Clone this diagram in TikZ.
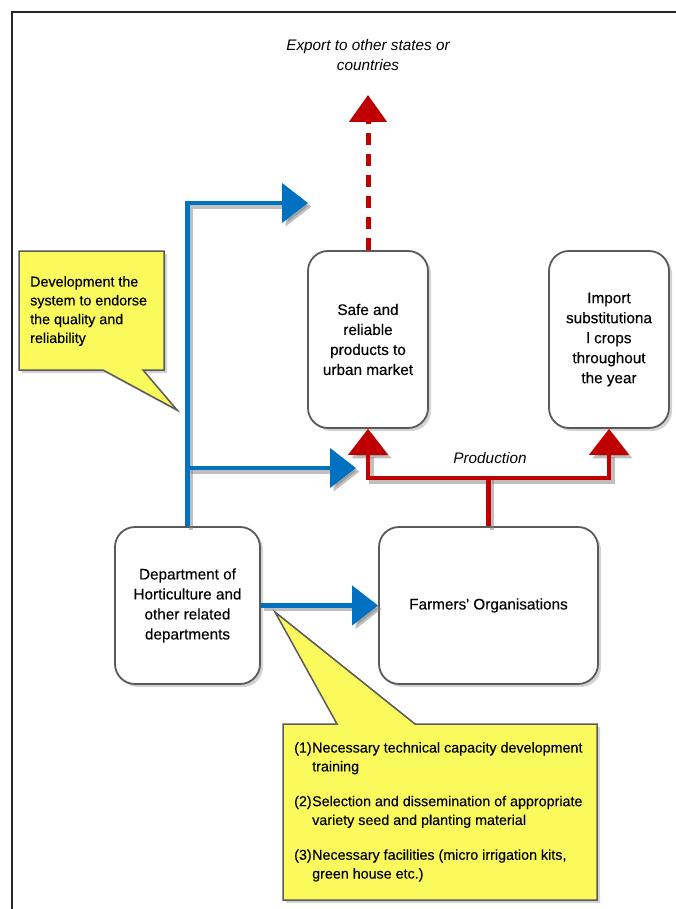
\documentclass[tikz,border=0pt]{standalone}
\usepackage{fontspec}
\setmainfont{Liberation Sans}
\newfontfamily\darktext{Liberation Sans}[FakeBold=0.25]
\usetikzlibrary{arrows.meta,shadows}
\definecolor{flowblue}{RGB}{0,112,192}
\definecolor{flowred}{RGB}{192,0,0}
\definecolor{notefill}{RGB}{250,250,92}
\definecolor{edgegray}{RGB}{90,90,90}

\begin{document}
\begin{tikzpicture}[x=1pt,y=-1pt,
  box/.style={draw=edgegray, line width=1.8pt, rounded corners=20pt, fill=white,
    align=center, inner sep=0pt, font=\darktext\fontsize{15.3}{20}\selectfont,
    drop shadow={shadow xshift=3pt, shadow yshift=-3pt, opacity=0.35}},
  note/.style={draw=edgegray, line width=1.5pt, fill=notefill, line join=miter,
    drop shadow={shadow xshift=3pt, shadow yshift=-3pt, opacity=0.35}},
  notetext/.style={align=left, anchor=north west, inner sep=0pt,
    font=\darktext\fontsize{14.3}{18.8}\selectfont},
  shade/.style={draw=black!50, opacity=0.5},
  flowtip/.style={-{Triangle[length=26pt,width=39pt]}},
  blueflow/.style={draw=flowblue, line width=4.5pt, flowtip},
  redflow/.style={draw=flowred, line width=4.5pt, flowtip},
  exportflow/.style={draw=flowred, line width=5pt, dash pattern=on 12pt off 9pt,
    -{Triangle[length=27pt,width=37pt]}},
  caption/.style={font=\fontsize{15.3}{20}\selectfont\itshape, align=center, inner sep=0pt}
]
\useasboundingbox (0,0) rectangle (676,909);

% outer frame
\draw[line width=1.8pt, black!85] (12,915) -- (12,12) -- (682,12);

% boxes
\node[box, minimum width=120pt, minimum height=177pt] (safe) at (368,339.5)
  {Safe and\\reliable\\products to\\urban market};
\node[box, minimum width=120pt, minimum height=177pt] (import) at (609,339.5)
  {Import\\substitutiona\\l crops\\throughout\\the year};
\node[box, minimum width=145pt, minimum height=157pt] (dept) at (187.5,605.5)
  {Department of\\Horticulture and\\other related\\departments};
\node[box, minimum width=219pt, minimum height=157pt] (farm) at (488.5,605.5)
  {Farmers\textquotesingle\ Organisations};

% captions
\node[caption] (export) at (368,55) {Export to other states or\\countries};
\node[caption] (prod) at (490,458) {Production};

% callout: quality system
\path[note] (19,251) -- (164,251) -- (164,370) -- (143,370) -- (177,410)
  -- (103,370) -- (19,370) -- cycle;
\node[notetext] (quality) at (30,276)
  {Development the\\system to endorse\\the quality and\\reliability};

% callout: support measures
\path[note] (283,724) -- (337,724) -- (275,612) -- (415,724) -- (597,724)
  -- (597,900) -- (283,900) -- cycle;
\node[notetext] (support) at (294,742)
  {\makebox[18pt][l]{(1)}Necessary technical capacity development\\
   \hspace*{18pt}training\\[16pt]
   \makebox[18pt][l]{(2)}Selection and dissemination of appropriate\\
   \hspace*{18pt}variety seed and planting material\\[16pt]
   \makebox[18pt][l]{(3)}Necessary facilities (micro irrigation kits,\\
   \hspace*{18pt}green house etc.)};

% connector points
\coordinate (btip) at (308,203);
\coordinate (bj) at (dept.north |- 0,468);
\coordinate (bmid) at (356,468);
\coordinate (rj) at (farm.north |- 0,478);
\coordinate (etip) at (368,95);

% soft shadows under the solid flows
\begin{scope}[transform canvas={shift={(3.5pt,-3.5pt)}}]
  \draw[blueflow, shade] (dept.north) |- (btip);
  \draw[blueflow, shade] (bj) -- (bmid);
  \draw[blueflow, shade] (dept.east) -- (farm.west);
  \draw[redflow, shade] (farm.north) -- (rj) -| (safe.south);
  \draw[redflow, shade] (rj) -| (import.south);
\end{scope}

% blue flows
\draw[blueflow] (dept.north) |- (btip);
\draw[blueflow] (bj) -- (bmid);
\draw[blueflow] (dept.east) -- (farm.west);

% red flows
\draw[redflow] (farm.north) -- (rj) -| (safe.south);
\draw[redflow] (rj) -| (import.south);
\draw[exportflow] (safe.north) -- (etip);
\end{tikzpicture}
\end{document}
